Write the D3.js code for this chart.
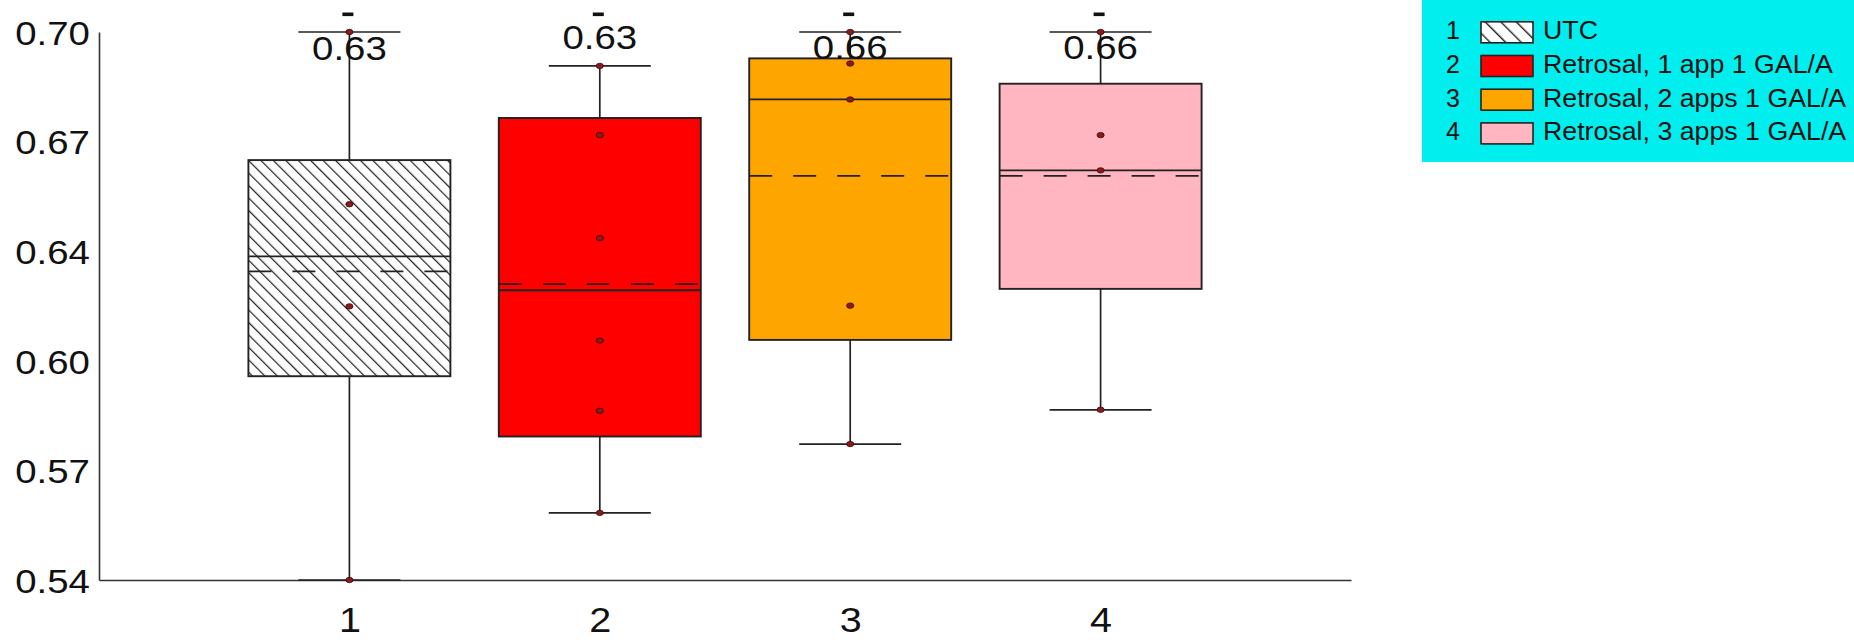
<!DOCTYPE html>
<html>
<head>
<meta charset="utf-8">
<script src="https://cdn.jsdelivr.net/npm/d3@7"></script>
<style>
  html, body { margin: 0; padding: 0; background: #ffffff; }
  svg { display: block; }
  text { font-family: "Liberation Sans", Arial, sans-serif; fill: #111; }
</style>
</head>
<body>
<svg id="chart" width="1854" height="640"></svg>
<script>
// ---- data ----
const categories = ["1", "2", "3", "4"];
const seriesNames = ["UTC", "Retrosal, 1 app 1 GAL/A", "Retrosal, 2 apps 1 GAL/A", "Retrosal, 3 apps 1 GAL/A"];
const lowerWhisker = [0.5400, 0.5596, 0.5797, 0.5897];
const q1 = [0.5995, 0.5819, 0.6101, 0.6250];
const medians = [0.6345, 0.6246, 0.6803, 0.6596];
const q3 = [0.6626, 0.6749, 0.6923, 0.6849];
const upperWhisker = [0.7000, 0.6901, 0.7000, 0.7000];
const means = [0.6301, 0.6264, 0.6580, 0.6580];
const points = [
  [0.5400, 0.6199, 0.6497, 0.7000],
  [0.5596, 0.5894, 0.6099, 0.6398, 0.6699, 0.6901],
  [0.5797, 0.6201, 0.6803, 0.6908, 0.7000],
  [0.5897, 0.6596, 0.6699, 0.7000]
];
const yTicks = [0.54, 0.572, 0.604, 0.636, 0.668, 0.70];
const yTickLabels = ["0.54", "0.57", "0.60", "0.64", "0.67", "0.70"];

// ---- layout & style ----
const fills = ["url(#hatch)", "#FF0000", "#FFA500", "#FFB6C1"];
const legendFills = ["url(#hatchLegend)", "#FF0000", "#FFA500", "#FFB6C1"];
const meanLabelY = [47.5, 36.7, 46.7, 46.7];   // centre of each mean label
const meanMarkY = 14.3;                        // dash marker above each label
const plot = { left: 99, right: 1351, top: 32, bottom: 580 };
const boxHalf = 101, capHalf = 51;
const stretch = 1.13;
const lineCol = "#222";

const svg = d3.select("#chart");
const defs = svg.append("defs");

function hatch(id, size, width) {
  const p = defs.append("pattern")
    .attr("id", id)
    .attr("patternUnits", "userSpaceOnUse")
    .attr("width", size).attr("height", size)
    .attr("patternTransform", "rotate(-45)");
  p.append("rect").attr("width", size).attr("height", size).attr("fill", "#fff");
  p.append("line").attr("x1", 0).attr("y1", 0).attr("x2", 0).attr("y2", size)
    .attr("stroke", lineCol).attr("stroke-width", width);
}
hatch("hatch", 8.8, 2.4);
hatch("hatchLegend", 11, 2.8);

const x = d3.scaleLinear().domain([0, 5]).range([plot.left, plot.right]);
const y = d3.scaleLinear().domain([0.54, 0.70]).range([plot.bottom, plot.top]);

// ---- axes ----
const yAxis = svg.append("g")
  .attr("transform", `translate(${plot.left},0)`)
  .call(d3.axisLeft(y).tickValues(yTicks).tickSize(0).tickSizeOuter(0).tickPadding(8)
    .tickFormat((d, i) => yTickLabels[i]));
yAxis.select(".domain").attr("stroke", "#333").attr("stroke-width", 1.6);
yAxis.selectAll("text")
  .attr("font-size", 34).attr("fill", "#111")
  .attr("font-family", "Liberation Sans, Arial, sans-serif")
  .attr("dy", "0.36em")
  .attr("transform", `scale(${stretch},1)`);

const xAxis = svg.append("g")
  .attr("transform", `translate(0,${plot.bottom})`)
  .call(d3.axisBottom(x).tickValues([1, 2, 3, 4]).tickSize(0).tickSizeOuter(0)
    .tickFormat((d, i) => categories[i]));
xAxis.select(".domain").attr("stroke", "#333").attr("stroke-width", 1.6);
xAxis.selectAll("text")
  .attr("font-size", 35).attr("fill", "#111")
  .attr("font-family", "Liberation Sans, Arial, sans-serif")
  .attr("y", 39).attr("dy", "0.36em")
  .attr("transform", `scale(${stretch},1)`);

// ---- boxes ----
const fmt = d3.format(".2f");
const boxes = svg.append("g");
categories.forEach((c, i) => {
  const cx = x(i + 1);
  const g = boxes.append("g");
  // whiskers
  g.append("line").attr("x1", cx).attr("x2", cx).attr("y1", y(q3[i])).attr("y2", y(upperWhisker[i]))
    .attr("stroke", lineCol).attr("stroke-width", 1.7);
  g.append("line").attr("x1", cx).attr("x2", cx).attr("y1", y(q1[i])).attr("y2", y(lowerWhisker[i]))
    .attr("stroke", lineCol).attr("stroke-width", 1.7);
  [upperWhisker[i], lowerWhisker[i]].forEach(v => {
    g.append("line").attr("x1", cx - capHalf).attr("x2", cx + capHalf).attr("y1", y(v)).attr("y2", y(v))
      .attr("stroke", lineCol).attr("stroke-width", 1.7);
  });
  // box
  g.append("rect")
    .attr("x", cx - boxHalf).attr("width", boxHalf * 2)
    .attr("y", y(q3[i])).attr("height", y(q1[i]) - y(q3[i]))
    .attr("fill", fills[i]).attr("stroke", lineCol).attr("stroke-width", 1.9);
  // median
  g.append("line").attr("x1", cx - boxHalf).attr("x2", cx + boxHalf)
    .attr("y1", y(medians[i])).attr("y2", y(medians[i]))
    .attr("stroke", lineCol).attr("stroke-width", 1.8);
  // mean
  g.append("line").attr("x1", cx - boxHalf).attr("x2", cx + boxHalf)
    .attr("y1", y(means[i])).attr("y2", y(means[i]))
    .attr("stroke", lineCol).attr("stroke-width", 1.8)
    .attr("stroke-dasharray", "23,21");
  // observations
  g.selectAll("ellipse").data(points[i]).join("ellipse")
    .attr("cx", cx).attr("cy", d => y(d))
    .attr("rx", 3.6).attr("ry", 2.7)
    .attr("fill", "#8B1A1A").attr("stroke", "#3a0a0a").attr("stroke-width", 0.8);
  // mean label with its dash marker
  g.append("text")
    .attr("transform", `translate(${cx},${meanLabelY[i]}) scale(${stretch},1)`)
    .attr("text-anchor", "middle").attr("dy", "0.36em")
    .attr("font-size", 34)
    .text(fmt(means[i]));
  g.append("rect")
    .attr("x", cx - 7).attr("y", meanMarkY - 1.8)
    .attr("width", 11).attr("height", 3.6)
    .attr("fill", "#111");
});

// ---- legend ----
const legend = svg.append("g");
legend.append("rect").attr("x", 1422).attr("y", 0).attr("width", 432).attr("height", 162)
  .attr("fill", "#00EEEE");
const rowY = d3.scaleLinear().domain([0, 1]).range([32.3, 66]);
seriesNames.forEach((name, i) => {
  const cy = rowY(i);
  legend.append("text")
    .attr("x", 1453).attr("y", cy - 2).attr("dy", "0.36em")
    .attr("text-anchor", "middle").attr("font-size", 25)
    .text(categories[i]);
  legend.append("rect")
    .attr("x", 1481).attr("y", cy - 10.5).attr("width", 52).attr("height", 21)
    .attr("fill", legendFills[i]).attr("stroke", lineCol).attr("stroke-width", 1.6);
  legend.append("text")
    .attr("transform", `translate(1543,${cy - 2}) scale(1.07,1)`)
    .attr("dy", "0.36em").attr("font-size", 25)
    .text(name);
});
</script>
</body>
</html>
